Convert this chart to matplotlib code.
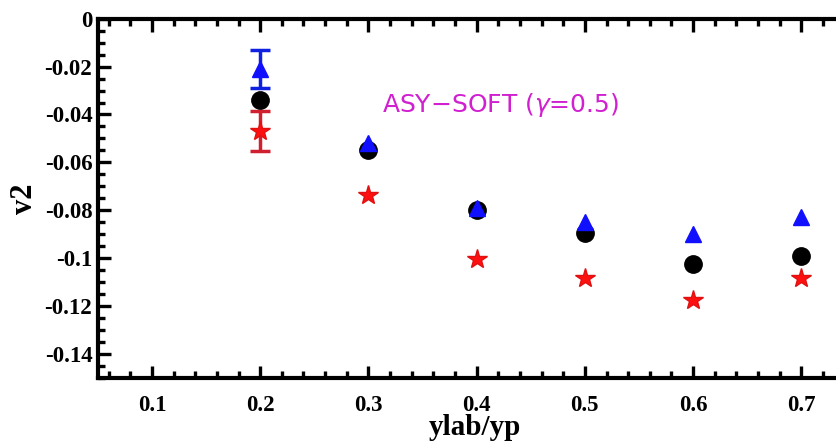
import matplotlib
matplotlib.use("Agg")
import matplotlib.pyplot as plt
from matplotlib.ticker import MultipleLocator

# rapidity bins
ylab = [0.2, 0.3, 0.4, 0.5, 0.6, 0.7]

# elliptic flow for the three species
v2_triangle = [-0.021, -0.052, -0.079, -0.085, -0.090, -0.083]
v2_circle = [-0.034, -0.055, -0.080, -0.0895, -0.1025, -0.099]
v2_star = [-0.047, -0.0735, -0.1005, -0.1085, -0.1175, -0.1085]

# statistical errors (only the first bin carries visible bars)
err_triangle = [0.008, 0, 0, 0, 0, 0]
err_star = [0.0083, 0, 0, 0, 0, 0]

xticks = [0.1, 0.2, 0.3, 0.4, 0.5, 0.6, 0.7]
yticks = [0, -0.02, -0.04, -0.06, -0.08, -0.1, -0.12, -0.14]
ytick_labels = ["0", "-0.02", "-0.04", "-0.06", "-0.08", "-0.1", "-0.12", "-0.14"]

serif = "Liberation Serif"


def with_errors(x, y, e):
    keep = [i for i, v in enumerate(e) if v > 0]
    return [x[i] for i in keep], [y[i] for i in keep], [e[i] for i in keep]


fig = plt.figure(figsize=(8.36, 4.44), dpi=100)
ax = fig.add_axes([0.117, 0.1486, 0.971, 0.809])

sx, sy, se = with_errors(ylab, v2_star, err_star)
ax.errorbar(sx, sy, yerr=se, fmt="none", ecolor="#d02030",
            elinewidth=2.5, capsize=7, capthick=2.5, zorder=2)
ax.plot(ylab, v2_star, linestyle="none", marker="*", markersize=15,
        color="#ff1010", markeredgecolor="#e01010", zorder=3)
ax.plot(ylab, v2_circle, linestyle="none", marker="o", markersize=12.5,
        color="black", zorder=4)
tx, ty, te = with_errors(ylab, v2_triangle, err_triangle)
ax.errorbar(tx, ty, yerr=te, fmt="none", ecolor="#1020e0",
            elinewidth=2.5, capsize=7, capthick=2.5, zorder=5)
ax.plot(ylab, v2_triangle, linestyle="none", marker="^", markersize=12,
        color="#1010ff", zorder=6)

ax.text(0.422, -0.036, "ASY\u2212SOFT ($\\gamma$=0.5)", color="#d020d0",
        fontsize=18, ha="center", va="center", family="DejaVu Sans")

ax.set_xlim(0.05, 0.8)
ax.set_ylim(-0.1502, 0)

ax.set_xticks(xticks)
ax.set_xticklabels([f"{t:g}" for t in xticks])
ax.set_yticks(yticks)
ax.set_yticklabels(ytick_labels)
ax.xaxis.set_minor_locator(MultipleLocator(0.02))
ax.yaxis.set_minor_locator(MultipleLocator(0.005))

ax.tick_params(which="both", direction="in", top=True, right=False, width=2.4)
ax.tick_params(which="major", length=9)
ax.tick_params(which="minor", length=5)
ax.tick_params(axis="x", which="major", pad=12)
ax.tick_params(axis="y", which="major", pad=4)
for lab in ax.get_xticklabels() + ax.get_yticklabels():
    lab.set_family(serif)
    lab.set_fontweight("bold")
    lab.set_fontsize(16.5)

for side in ("left", "bottom", "top"):
    ax.spines[side].set_linewidth(3)
ax.spines["right"].set_visible(False)

ax.set_xlabel("ylab/yp", family=serif, fontweight="bold", fontsize=21)
ax.xaxis.set_label_coords(0.464, -0.1)
ax.set_ylabel("v2", family=serif, fontweight="bold", fontsize=22)
ax.yaxis.set_label_coords(-0.072, 0.5)

fig.savefig("out.png", dpi=100)
